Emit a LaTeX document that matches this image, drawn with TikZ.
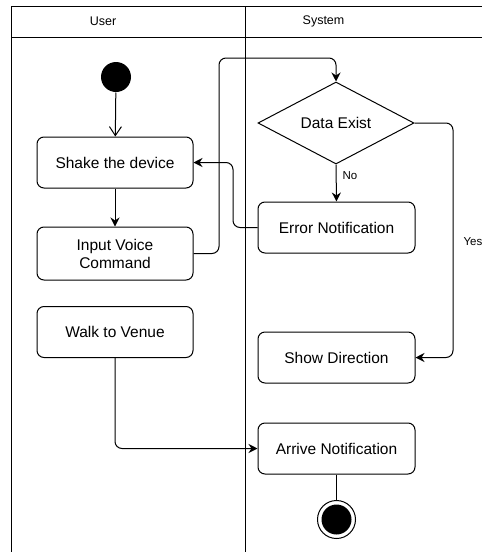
\documentclass[tikz,border=0pt]{standalone}
\usepackage{fontspec}
\setmainfont{Liberation Sans}
\usetikzlibrary{arrows.meta,shapes.geometric}
\begin{document}
\begin{tikzpicture}[x=1pt,y=-1pt,line width=1pt,
  act/.style={draw, rounded corners=7pt, minimum width=156pt, minimum height=51pt, inner sep=2pt, align=center, font=\fontsize{15.5}{18}\selectfont},
  dec/.style={draw, diamond, minimum width=156pt, minimum height=76pt, inner sep=0pt, font=\fontsize{15.5}{18}\selectfont},
  arr/.style={-{Stealth[length=9pt,width=9pt]}},
  openarr/.style={-{Straight Barb[length=9pt,width=12pt]}},
  conn/.style={rounded corners=7pt},
  hdr/.style={font=\fontsize{12.5}{15}\selectfont},
  lbl/.style={font=\fontsize{11.5}{14}\selectfont, inner sep=0pt}]
\useasboundingbox (0,0) rectangle (482,552);
% swimlanes
\draw (11,552) -- (11,6) -- (482,6);
\draw (11,37) -- (482,37);
\draw (245,6) -- (245,552);
\node[hdr] (huser) at (103,21) {User};
\node[hdr] (hsys) at (323.5,21) {System};
% nodes
\node[circle, fill=black, minimum size=30pt, inner sep=0pt] (start) at (116,77) {};
\node[act] (shake) at (115,162.5) {Shake the device};
\node[act, minimum height=53pt] (input) at (115,253.5) {Input Voice\\Command};
\node[act] (walk) at (115,332) {Walk to Venue};
\node[dec] (data) at (336,123) {Data Exist};
\node[act, minimum width=157pt] (error) at (336.5,227.5) {Error Notification};
\node[act, minimum width=157pt] (show) at (336.5,357.5) {Show Direction};
\node[act, minimum width=157pt] (arrive) at (336.5,448.5) {Arrive Notification};
\node[circle, draw, minimum size=38pt, inner sep=0pt] (end) at (336.5,519.5) {};
\fill (end.center) circle (15);
% waypoints
\coordinate (b1) at (219,150);
\coordinate (b2) at (233,195);
\coordinate (b3) at (453,240);
% connectors
\draw[openarr] (start) -- (shake);
\draw[arr] (shake) -- (input);
\draw[arr,conn] (input.east) -| (b1) |- (336,58) -- (data.north);
\draw[arr] (data.south) -- (error.north);
\node[lbl, anchor=west] (no) at (342,176) {No};
\draw[arr,conn] (error.west) -| (b2) |- (shake.east);
\draw[arr,conn] (data.east) -| (b3) |- (show.east);
\node[lbl, anchor=west] (yes) at (463,242) {Yes};
\draw[arr,conn] (walk.south) |- (arrive.west);
\draw (arrive.south) -- (end.north);
\end{tikzpicture}
\end{document}
